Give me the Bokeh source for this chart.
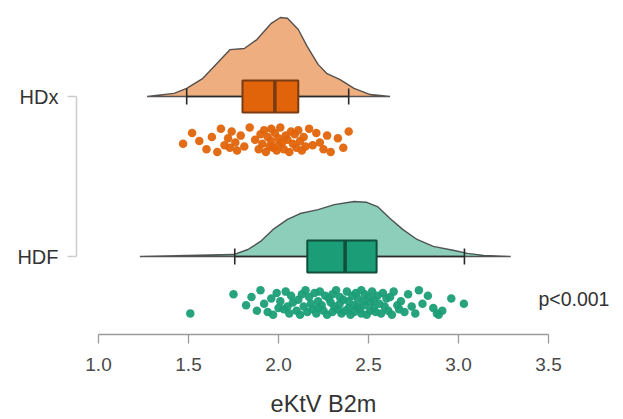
from bokeh.plotting import figure
from bokeh.models import Range1d, LinearAxis, FixedTicker, Label
from bokeh.embed import file_html
from bokeh.resources import INLINE

# ---------------- data ----------------
groups = ["HDx", "HDF"]
group_pos = [2, 1]
x_ticks = [1.0, 1.5, 2.0, 2.5, 3.0, 3.5]
x_tick_labels = ["1.0", "1.5", "2.0", "2.5", "3.0", "3.5"]
x_title = "eKtV B2m"
p_text = "p<0.001"

# box-plot statistics: whisker low, Q1, median, Q3, whisker high
hdx_stats = [1.49, 1.80, 1.98, 2.11, 2.39]
hdf_stats = [1.757, 2.16, 2.37, 2.545, 3.033]

# density curves (value, density)
hdx_dens_x = [1.27, 1.42, 1.49, 1.58, 1.68, 1.73, 1.81, 1.88, 1.96, 2.01,
              2.05, 2.11, 2.16, 2.22, 2.27, 2.34, 2.42, 2.51, 2.62]
hdx_dens_y = [0.0, 0.08, 0.21, 0.47, 0.96, 1.21, 1.24, 1.47, 1.89, 2.04,
              2.02, 1.73, 1.29, 0.83, 0.59, 0.44, 0.21, 0.05, 0.0]
hdf_dens_x = [1.23, 1.75, 1.83, 1.90, 1.97, 2.05, 2.12, 2.22, 2.31, 2.42,
              2.49, 2.55, 2.62, 2.69, 2.77, 2.86, 2.97, 3.05, 3.14, 3.29]
hdf_dens_y = [0.0, 0.05, 0.18, 0.39, 0.70, 0.96, 1.11, 1.21, 1.34, 1.42,
              1.40, 1.29, 0.98, 0.70, 0.44, 0.26, 0.16, 0.08, 0.03, 0.0]

# individual observations
hdx_values = [1.47, 1.52, 1.56, 1.60, 1.63, 1.66, 1.68, 1.70, 1.72, 1.73,
              1.74, 1.76, 1.77, 1.79, 1.81, 1.84, 1.87, 1.89, 1.90, 1.91,
              1.92, 1.93, 1.94, 1.95, 1.96, 1.96, 1.97, 1.98, 1.99, 2.00,
              2.00, 2.01, 2.02, 2.03, 2.04, 2.05, 2.06, 2.07, 2.08, 2.09,
              2.10, 2.11, 2.12, 2.13, 2.14, 2.15, 2.17, 2.19, 2.21, 2.23,
              2.25, 2.27, 2.29, 2.33, 2.36, 2.39]
hdx_jitter = [0.3, -0.5, 0.1, 0.7, -0.2, 0.9, -0.8, 0.4, -0.1, 0.6,
              -0.6, 0.2, 0.8, -0.3, 0.5, -0.9, 0.0, 0.7, -0.4, 0.3,
              -0.7, 0.9, -0.2, 0.5, -0.8, 0.1, 0.6, -0.5, 0.8, -0.1,
              0.4, -0.9, 0.2, 0.7, -0.3, 0.0, 0.9, -0.6, 0.3, -0.4,
              0.6, -0.7, 0.1, 0.8, -0.2, 0.5, -0.8, 0.4, -0.5, 0.2,
              0.7, -0.3, 0.9, -0.1, 0.6, -0.6]
hdf_values = [1.51, 1.75, 1.82, 1.85, 1.88, 1.90, 1.92, 1.94, 1.96, 1.97,
              1.99, 2.00, 2.01, 2.03, 2.04, 2.05, 2.06, 2.07, 2.08, 2.10,
              2.11, 2.12, 2.13, 2.14, 2.15, 2.16, 2.17, 2.18, 2.19, 2.20,
              2.21, 2.22, 2.22, 2.23, 2.24, 2.25, 2.26, 2.27, 2.28, 2.29,
              2.30, 2.30, 2.31, 2.32, 2.33, 2.34, 2.34, 2.35, 2.36, 2.37,
              2.38, 2.39, 2.39, 2.40, 2.41, 2.42, 2.42, 2.43, 2.44, 2.44,
              2.45, 2.46, 2.46, 2.47, 2.48, 2.48, 2.49, 2.50, 2.51, 2.51,
              2.52, 2.53, 2.53, 2.54, 2.55, 2.56, 2.57, 2.58, 2.59, 2.60,
              2.61, 2.62, 2.63, 2.64, 2.66, 2.67, 2.68, 2.70, 2.72, 2.74,
              2.76, 2.78, 2.80, 2.83, 2.86, 2.88, 2.89, 2.91, 2.96, 3.03]
hdf_jitter = [0.8, -0.6, 0.2, -0.4, 0.6, -0.9, 0.1, 0.7, -0.3, 0.9,
              -0.7, 0.4, -0.1, 0.5, -0.8, 0.3, 0.8, -0.5, 0.0, 0.6,
              -0.2, 0.9, -0.6, 0.3, -0.9, 0.7, -0.4, 0.1, 0.5, -0.7,
              0.8, -0.1, 0.4, -0.8, 0.2, 0.6, -0.5, 0.9, -0.3, 0.0,
              0.7, -0.6, 0.3, -0.9, 0.5, 0.1, -0.4, 0.8, -0.2, 0.6,
              -0.8, 0.4, -0.1, 0.9, -0.5, 0.2, 0.7, -0.7, 0.3, -0.3,
              0.5, -0.9, 0.8, -0.1, 0.2, -0.6, 0.9, -0.4, 0.6, 0.0,
              -0.8, 0.4, -0.2, 0.7, -0.5, 0.1, 0.8, -0.7, 0.3, -0.3,
              0.6, -0.4, 0.9, -0.8, 0.2, 0.5, -0.1, 0.7, -0.6, 0.3,
              0.8, -0.9, 0.1, -0.5, 0.4, 0.8, 0.9, 0.6, -0.3, 0.1]

# ---------------- styling ----------------
FONT = "Liberation Sans"
fill_main = ["#E2640A", "#1B9E77"]
fill_dens = ["#EFAE80", "#8DCEBB"]
box_line = ["#7A3A12", "#0F4F3C"]
dens_scale = 0.242      # data units per density unit
box_half = 0.10
cap_half = 0.05
dot_offset = [0.27, 0.2875]
jit_half = 0.085
axis_y = 0.5125         # where the value axis is drawn
title_y = 0.08
p_pos = (3.444, 0.7375)

p = figure(width=623, height=419,
           x_range=Range1d(0.8778, 3.9167), y_range=Range1d(-0.01875, 2.6),
           output_backend="svg", toolbar_location=None,
           x_axis_type=None, y_axis_type=None,
           min_border_left=76, min_border_right=0,
           min_border_top=0, min_border_bottom=0)
p.outline_line_color = None
p.background_fill_color = "white"

all_stats = [hdx_stats, hdf_stats]
all_dx = [hdx_dens_x, hdf_dens_x]
all_dy = [hdx_dens_y, hdf_dens_y]
all_vals = [hdx_values, hdf_values]
all_jit = [hdx_jitter, hdf_jitter]

for i, g in enumerate(groups):
    base = group_pos[i]
    # density (half violin)
    ys = [base + d * dens_scale for d in all_dy[i]]
    p.patch(all_dx[i], ys, fill_color=fill_dens[i], line_color="#3a3a3a",
            line_width=1.4, line_alpha=0.85)
    wl, q1, med, q3, wh = all_stats[i]
    # whiskers
    p.segment(x0=[wl, q3], y0=[base, base], x1=[q1, wh], y1=[base, base],
              line_color="#2a2a2a", line_width=1.6)
    p.segment(x0=[wl, wh], y0=[base - cap_half] * 2, x1=[wl, wh],
              y1=[base + cap_half] * 2, line_color="#2a2a2a", line_width=1.6)
    # box
    p.quad(left=[q1], right=[q3], bottom=[base - box_half], top=[base + box_half],
           fill_color=fill_main[i], line_color=box_line[i], line_width=2)
    p.segment(x0=[med], y0=[base - box_half], x1=[med], y1=[base + box_half],
              line_color=box_line[i], line_width=3.5)
    # raw points
    py = [base - dot_offset[i] - j * jit_half for j in all_jit[i]]
    p.scatter(all_vals[i], py, size=8.5, fill_color=fill_main[i],
              line_color=None, fill_alpha=0.95)

# p-value
pl = Label(x=p_pos[0], y=p_pos[1], text=p_text, text_font=FONT,
           text_font_size="19.5px", text_color="#333333",
           text_baseline="middle", text_align="left")
p.add_layout(pl)

# bottom (value) axis, drawn at a fixed place inside the plot
xa = LinearAxis(ticker=FixedTicker(ticks=x_ticks, minor_ticks=[]),
                bounds=(x_ticks[0], x_ticks[-1]), fixed_location=axis_y)
xa.major_label_overrides = {t: l for t, l in zip(x_ticks, x_tick_labels)}
xa.axis_line_color = "#9a9a9a"
xa.axis_line_width = 1.3
xa.major_tick_line_color = "#9a9a9a"
xa.major_tick_line_width = 1.3
xa.major_tick_out = 9
xa.major_tick_in = 0
xa.minor_tick_out = 0
xa.minor_tick_in = 0
xa.major_label_standoff = 14
xa.major_label_text_font = FONT
xa.major_label_text_font_size = "19px"
xa.major_label_text_color = "#4a4a4a"
p.add_layout(xa, "below")

# x title, centred under the axis
tl = Label(x=(x_ticks[0] + x_ticks[-1]) / 2, y=title_y, text=x_title,
           text_font=FONT, text_font_size="23.5px", text_color="#333333",
           text_baseline="middle", text_align="center")
p.add_layout(tl)

# left axis
ya = LinearAxis(ticker=FixedTicker(ticks=group_pos, minor_ticks=[]),
                bounds=(min(group_pos), max(group_pos)))
ya.major_label_overrides = {pos: g for pos, g in zip(group_pos, groups)}
ya.axis_line_color = "#cccccc"
ya.axis_line_width = 1.5
ya.major_tick_line_color = "#cccccc"
ya.major_tick_line_width = 1.5
ya.major_tick_out = 9
ya.major_tick_in = 0
ya.minor_tick_out = 0
ya.major_label_standoff = 9
ya.major_label_text_font = FONT
ya.major_label_text_font_size = "20px"
ya.major_label_text_color = "#333333"
p.add_layout(ya, "left")

open("out.html", "w").write(file_html(p, INLINE))
